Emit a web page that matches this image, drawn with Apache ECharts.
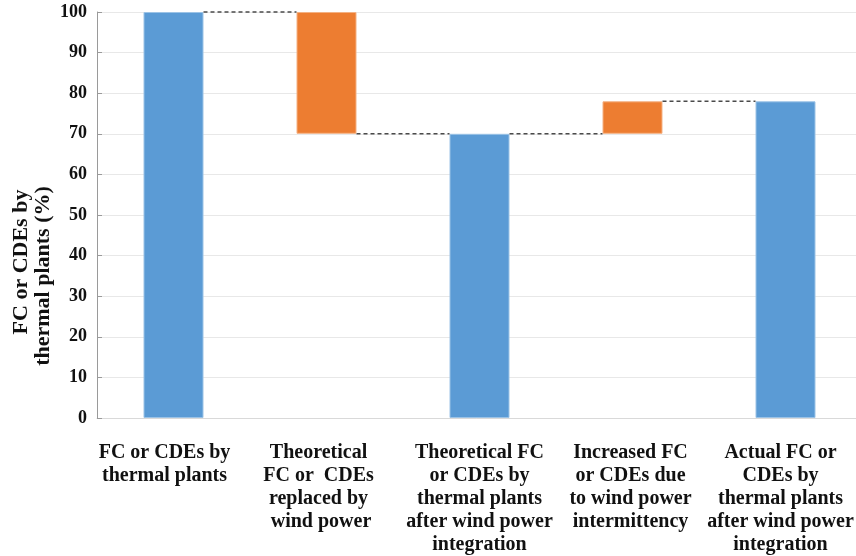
<!DOCTYPE html>
<html>
<head>
<meta charset="utf-8">
<script src="https://cdn.jsdelivr.net/npm/echarts@6/dist/echarts.min.js"></script>
<style>html,body{margin:0;padding:0;background:#fff}#c{width:856px;height:556px}</style>
</head>
<body>
<div id="c"></div>
<script>
var categories = [
  'FC or CDEs by\nthermal plants',
  'Theoretical\nFC or  CDEs\nreplaced by\n wind power',
  'Theoretical FC\nor CDEs by\nthermal plants\nafter wind power\nintegration',
  'Increased FC\nor CDEs due\nto wind power\nintermittency',
  'Actual FC or\nCDEs by\nthermal plants\nafter wind power\nintegration'
];
var stepTypes = ['total', 'decrease', 'total', 'increase', 'total'];
var baseValues = [0, 70, 0, 70, 0];
var barValues = [100, 30, 70, 8, 78];
var yTicks = [0, 10, 20, 30, 40, 50, 60, 70, 80, 90, 100];
var yTitleLines = ['FC or CDEs by', 'thermal plants (%)'];

// layout-only: horizontal nudge of each category label (px)
var labelShift = [-9, -8, 0, -2, -5];

var FONT = "'Liberation Serif', 'Times New Roman', serif";
var BLUE = '#5B9BD5', ORANGE = '#ED7D31';
var BAR_W = 60;

var connectors = [];
for (var i = 0; i < categories.length - 1; i++) {
  var t = stepTypes[i];
  var lvl = t === 'decrease' ? baseValues[i] : baseValues[i] + barValues[i];
  connectors.push([i, lvl]);
}

var catData = categories.map(function (c, k) {
  var s = labelShift[k];
  var pad = s < 0 ? [0, -2 * s, 0, 0] : [0, 0, 0, 2 * s];
  return {value: c, textStyle: {padding: pad}};
});

var chart = echarts.init(document.getElementById('c'), null, {renderer: 'canvas'});
chart.setOption({
  animation: false,
  grid: {left: 97, top: 12, width: 765, bottom: 138, containLabel: false, outerBoundsMode: 'none'},
  xAxis: {
    type: 'category',
    data: catData,
    axisLine: {show: true, lineStyle: {color: '#d9d9d9', width: 1}},
    axisTick: {show: false},
    axisLabel: {
      interval: 0, margin: 23,
      fontFamily: FONT, fontWeight: 'bold', fontSize: 20, lineHeight: 23,
      color: '#111', align: 'center'
    }
  },
  yAxis: {
    type: 'value', min: yTicks[0], max: yTicks[yTicks.length - 1], interval: 10,
    axisLine: {show: true, lineStyle: {color: '#9a9a9a', width: 1}},
    axisTick: {show: true, inside: true, length: 5, lineStyle: {color: '#9a9a9a'}},
    splitLine: {show: true, lineStyle: {color: '#e8e8e8', width: 1}},
    axisLabel: {
      margin: 10, fontFamily: FONT, fontWeight: 'bold', fontSize: 18, color: '#111'
    }
  },
  graphic: [{
    type: 'text', x: 21, y: 262, rotation: Math.PI / 2,
    style: {
      text: yTitleLines[0], font: 'bold 22px ' + FONT, fill: '#111',
      align: 'center', verticalAlign: 'middle'
    }
  }, {
    type: 'text', x: 43, y: 276, rotation: Math.PI / 2,
    style: {
      text: yTitleLines[1], font: 'bold 22px ' + FONT, fill: '#111',
      align: 'center', verticalAlign: 'middle'
    }
  }],
  series: [
    {
      type: 'bar', stack: 'w', barWidth: BAR_W, silent: true,
      itemStyle: {color: 'rgba(0,0,0,0)'},
      data: baseValues
    },
    {
      type: 'bar', stack: 'w', barWidth: BAR_W,
      data: barValues.map(function (v, k) {
        var tot = stepTypes[k] === 'total';
        return {value: v, itemStyle: {color: tot ? BLUE : ORANGE, borderColor: tot ? '#9cc3e6' : '#f4b183', borderWidth: 1}};
      })
    },
    {
      type: 'custom', silent: true, z: 5,
      data: connectors,
      renderItem: function (params, api) {
        var idx = api.value(0), lvl = api.value(1);
        var p1 = api.coord([idx, lvl]);
        var p2 = api.coord([idx + 1, lvl]);
        return {
          type: 'line',
          shape: {x1: p1[0] + BAR_W / 2, y1: p1[1], x2: p2[0] - BAR_W / 2, y2: p2[1]},
          style: {stroke: '#4a4a4a', lineWidth: 1.5, lineDash: [4, 3]}
        };
      }
    }
  ]
});
</script>
</body>
</html>
